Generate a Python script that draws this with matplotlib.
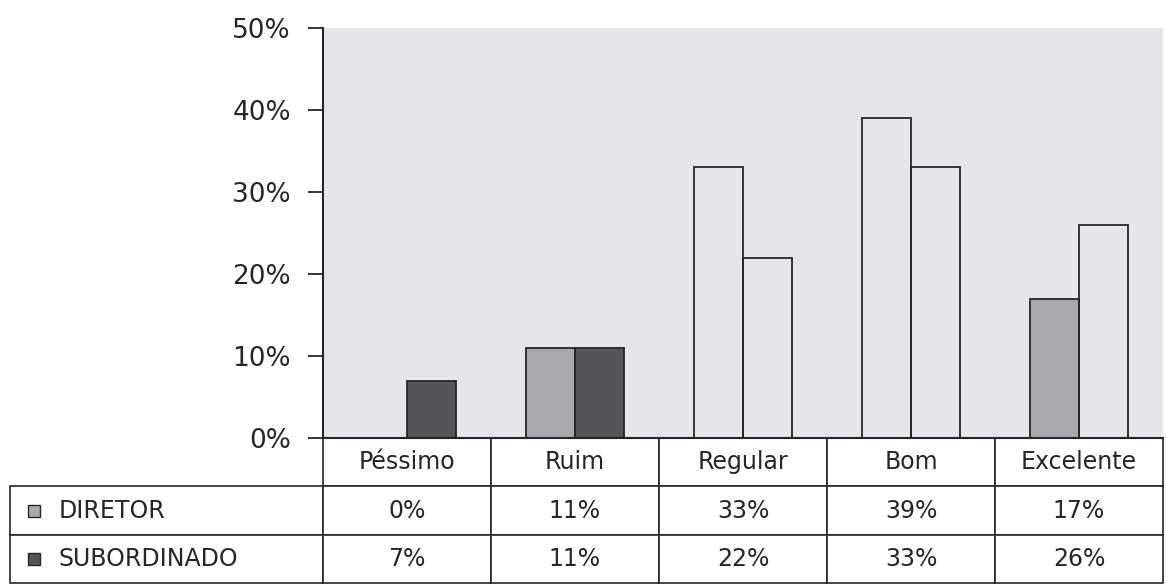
import matplotlib
matplotlib.use("Agg")
import matplotlib.pyplot as plt
import numpy as np
from matplotlib.ticker import FuncFormatter

plt.rcParams['font.family'] = ['DejaVu Sans']

categorias = ['Péssimo', 'Ruim', 'Regular', 'Bom', 'Excelente']
series = ['DIRETOR', 'SUBORDINADO']
diretor = [0, 11, 33, 39, 17]
subordinado = [7, 11, 22, 33, 26]

# which bars keep their fill colour (the rest are drawn as outlines only)
preench_dir = [True, True, False, False, True]
preench_sub = [True, True, False, False, False]

cor_dir = '#a7a9ac'
cor_sub = '#545558'
fundo = '#e4e6e9'
linha = '#262626'

W, H = 1166, 585
fig = plt.figure(figsize=(W / 100, H / 100), dpi=100)
ax = fig.add_axes([323 / W, 147 / H, 840 / W, 410 / H])
ax.set_facecolor(fundo)

x = np.arange(len(categorias))
w = 0.29
b1 = ax.bar(x - w / 2, diretor, w, edgecolor=linha, linewidth=1.3)
b2 = ax.bar(x + w / 2, subordinado, w, edgecolor=linha, linewidth=1.3)
for bar, f in zip(b1, preench_dir):
    bar.set_facecolor(cor_dir if f else 'none')
for bar, f in zip(b2, preench_sub):
    bar.set_facecolor(cor_sub if f else 'none')

ax.set_xlim(-0.5, len(categorias) - 0.5)
ax.set_ylim(0, 50)
ax.set_yticks(np.arange(0, 51, 10))
ax.yaxis.set_major_formatter(FuncFormatter(lambda v, p: f'{v:.0f}%'))
ax.tick_params(axis='y', direction='out', length=11, width=1.3, pad=12,
               labelsize=19, colors=linha)
ax.set_xticks([])
for s in ['top', 'right']:
    ax.spines[s].set_visible(False)
for s in ['left', 'bottom']:
    ax.spines[s].set_linewidth(1.5)
    ax.spines[s].set_color(linha)

# data table under the bars; bbox covers the value grid,
# the series-name column is added by hand and hangs out to the left
y0 = -(583 - 438) / 410
th = -y0
tab = ax.table(cellText=[[f'{v}%' for v in diretor],
                         [f'{v}%' for v in subordinado]],
               colLabels=categorias, cellLoc='center', colLoc='center',
               bbox=[0, y0, 1, th])
ch = tab[1, 0].get_height()
for i, nome in enumerate(series):
    tab.add_cell(i + 1, -1, width=313 / 840, height=ch, text=nome,
                 loc='left')
tab.auto_set_font_size(False)
tab.set_fontsize(17)
for (r, c), cell in tab.get_celld().items():
    cell.set_edgecolor(linha)
    cell.set_linewidth(1.2)
    cell.get_text().set_color(linha)
    if c == -1:
        cell.PAD = 0.155
    else:
        cell.set_width(1 / len(categorias))

# colour keys next to the series names
rh = th / 3
for i, cor in enumerate([cor_dir, cor_sub]):
    ax.plot([(34 - 323) / 840], [y0 + (1.5 - i) * rh], marker='s', ms=9,
            mfc=cor, mec=linha, mew=1.0, transform=ax.transAxes,
            clip_on=False)

fig.savefig('out.png', dpi=100)
